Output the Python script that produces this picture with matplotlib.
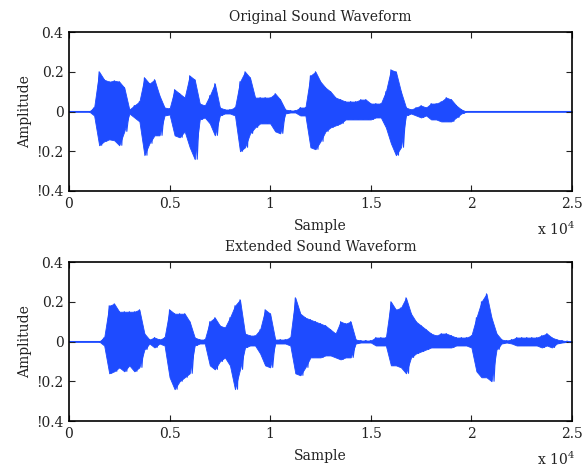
import numpy as np
import matplotlib.pyplot as plt

plt.rcParams['font.family'] = ['DejaVu Serif']
plt.rcParams['mathtext.fontset'] = 'dejavuserif'

# envelope read every 250 samples (0 .. 25000)
step = 250
orig_upper = [0, 0, 0, 0, 0, 0.02, 0.20, 0.16, 0.15, 0.155, 0.15, 0.12, 0.01, 0.03, 0.05, 0.17,
              0.14, 0.16, 0.08, 0.02, 0.015, 0.11, 0.09, 0.07, 0.18, 0.16, 0.04, 0.03, 0.08, 0.14,
              0.02, 0.01, 0.01, 0.02, 0.15, 0.20, 0.17, 0.07, 0.07, 0.07, 0.07, 0.09, 0.06, 0.01,
              0.005, 0.005, 0.02, 0.02, 0.18, 0.20, 0.15, 0.12, 0.10, 0.07, 0.06, 0.05, 0.05, 0.05,
              0.06, 0.06, 0.04, 0.04, 0.04, 0.10, 0.21, 0.20, 0.10, 0.02, 0.01, 0.02, 0.03, 0.02,
              0.04, 0.04, 0.05, 0.07, 0.06, 0.03, 0.01, 0, 0, 0, 0, 0, 0, 0, 0, 0, 0, 0, 0, 0, 0, 0,
              0, 0, 0, 0, 0, 0, 0]
orig_lower = [0, 0, 0, 0, 0, -0.02, -0.17, -0.15, -0.14, -0.145, -0.17, -0.10, -0.01, -0.03, -0.05,
              -0.22, -0.16, -0.12, -0.12, -0.02, -0.015, -0.12, -0.13, -0.10, -0.18, -0.24, -0.04,
              -0.03, -0.06, -0.12, -0.02, -0.01, -0.01, -0.02, -0.20, -0.18, -0.11, -0.08, -0.06,
              -0.06, -0.06, -0.10, -0.11, -0.01, -0.005, -0.005, -0.02, -0.02, -0.18, -0.19, -0.15,
              -0.10, -0.08, -0.07, -0.06, -0.04, -0.04, -0.04, -0.04, -0.04, -0.04, -0.03, -0.03,
              -0.08, -0.16, -0.22, -0.18, -0.02, -0.01, -0.02, -0.03, -0.02, -0.04, -0.04, -0.05,
              -0.05, -0.05, -0.03, -0.01, 0, 0, 0, 0, 0, 0, 0, 0, 0, 0, 0, 0, 0, 0, 0, 0, 0, 0, 0,
              0, 0, 0]
ext_upper = [0, 0, 0, 0, 0, 0, 0, 0.02, 0.18, 0.19, 0.15, 0.15, 0.15, 0.15, 0.16, 0.04, 0.01,
             0.02, 0.01, 0.02, 0.16, 0.14, 0.14, 0.14, 0.10, 0.02, 0.01, 0.01, 0.10, 0.12, 0.08,
             0.07, 0.12, 0.18, 0.21, 0.04, 0.03, 0.03, 0.06, 0.16, 0.14, 0.01, 0.01, 0.01, 0.02,
             0.22, 0.14, 0.12, 0.11, 0.10, 0.09, 0.08, 0.06, 0.04, 0.10, 0.09, 0.10, 0.01, 0.005,
             0.005, 0.005, 0.02, 0.02, 0.02, 0.20, 0.16, 0.17, 0.22, 0.14, 0.10, 0.08, 0.06, 0.04,
             0.03, 0.04, 0.04, 0.03, 0.02, 0.02, 0.02, 0.03, 0.12, 0.20, 0.24, 0.12, 0.04, 0.01,
             0.005, 0.01, 0.02, 0.02, 0.02, 0.02, 0.02, 0.03, 0.04, 0.02, 0.01, 0.005, 0.002, 0]
ext_lower = [0, 0, 0, 0, 0, 0, 0, -0.02, -0.16, -0.15, -0.13, -0.15, -0.12, -0.15, -0.13, -0.04,
             -0.01, -0.03, -0.01, -0.02, -0.18, -0.24, -0.20, -0.18, -0.16, -0.02, -0.01, -0.01,
             -0.12, -0.14, -0.10, -0.08, -0.12, -0.24, -0.14, -0.03, -0.02, -0.02, -0.06, -0.12,
             -0.13, -0.01, -0.01, -0.01, -0.02, -0.16, -0.17, -0.13, -0.08, -0.08, -0.08, -0.07,
             -0.07, -0.08, -0.09, -0.08, -0.08, -0.01, -0.005, -0.005, -0.005, -0.02, -0.02, -0.02,
             -0.12, -0.12, -0.13, -0.16, -0.08, -0.06, -0.05, -0.04, -0.03, -0.03, -0.03, -0.03,
             -0.03, -0.02, -0.02, -0.02, -0.03, -0.15, -0.18, -0.18, -0.20, -0.04, -0.01, -0.005,
             -0.01, -0.02, -0.02, -0.02, -0.02, -0.02, -0.03, -0.02, -0.03, -0.01, -0.005, -0.002, 0]

titles = ['Original Sound Waveform', 'Extended Sound Waveform']
xticks = [0, 5000, 10000, 15000, 20000, 25000]
xticklabels = ['0', '0.5', '1', '1.5', '2', '2.5']
yticks = [-0.4, -0.2, 0, 0.2, 0.4]
yticklabels = ['!0.4', '!0.2', '0', '0.2', '0.4']

blue = '#1E4BFF'
fig = plt.figure(figsize=(5.86, 4.68), dpi=100)
boxes = [[0.1177, 0.5919, 0.8584, 0.3397], [0.1177, 0.1004, 0.8584, 0.3397]]
sets = [(orig_upper, orig_lower), (ext_upper, ext_lower)]

for box, title, (up, lo) in zip(boxes, titles, sets):
    ax = fig.add_axes(box)
    up = np.array(up)
    lo = np.array(lo)
    x = np.arange(len(up)) * step
    # zigzag between the envelopes to mimic the dense waveform
    zx = np.ravel(np.column_stack([x, x + step / 2]))
    zy = np.ravel(np.column_stack([up, lo]))
    ax.fill_between(x, lo, up, color=blue, lw=0.6)
    ax.plot(zx, zy, color=blue, lw=0.8)
    ax.set_xlim(0, 25000)
    ax.set_ylim(-0.4, 0.4)
    ax.set_xticks(xticks)
    ax.set_xticklabels(xticklabels)
    ax.set_yticks(yticks)
    ax.set_yticklabels(yticklabels)
    ax.tick_params(direction='in', top=True, right=True, length=4, width=0.8,
                   labelsize=10, pad=4, colors='#222222')
    for s in ax.spines.values():
        s.set_linewidth(1.2)
    ax.set_title(title, fontsize=10, pad=8, color='#222222')
    ax.set_xlabel('Sample', fontsize=10, labelpad=6, color='#222222')
    ax.set_ylabel('Amplitude', fontsize=10, labelpad=3, color='#222222')
    ax.text(0.93, -0.24, 'x 10$^{4}$', transform=ax.transAxes, fontsize=10,
            va='center', ha='left', color='#222222')

fig.savefig('out.png', dpi=100)
